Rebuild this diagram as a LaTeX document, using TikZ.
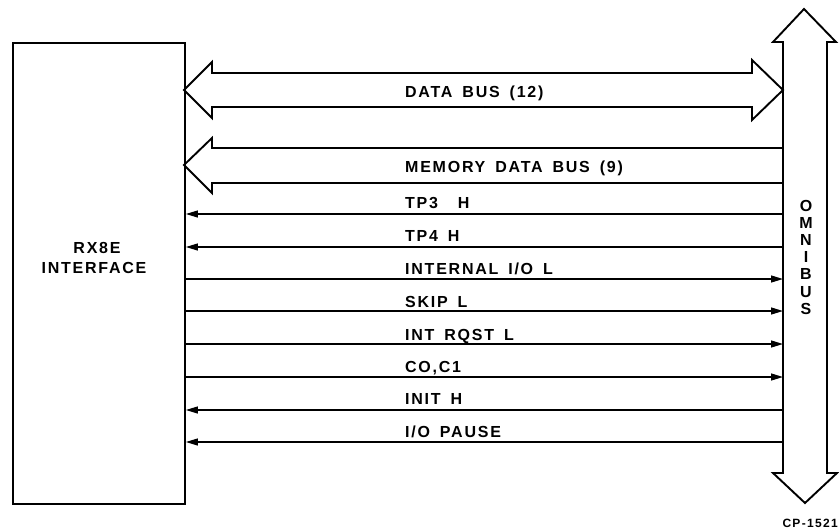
\documentclass[tikz,border=0pt]{standalone}
\usepackage{fontspec}
\usetikzlibrary{arrows.meta}
\newfontfamily\lbl[LetterSpace=11,WordSpace=1.6]{Liberation Sans Bold}
\begin{document}
\begin{tikzpicture}[x=1pt,y=-1pt,
  boxline/.style={line width=1.9pt},
  busline/.style={line width=1.9pt, line join=miter},
  sigline/.style={line width=1.3pt},
  toleft/.style={sigline, -{Triangle[length=12pt,width=7pt]}},
  toright/.style={sigline, -{Triangle[length=12pt,width=7pt]}},
  txt/.style={font=\lbl\fontsize{16}{17}\selectfont, inner sep=0pt},
  smalltxt/.style={font=\lbl\fontsize{12}{13}\selectfont, inner sep=0pt}
]
\useasboundingbox (0,0) rectangle (839,531);

% interface box
\node[draw, boxline, minimum width=172pt, minimum height=461pt, inner sep=0pt, anchor=north west] (rx) at (12,42) {};
\node[txt, anchor=base] (rxa) at (97,253) {RX8E};
\node[txt, anchor=base] (rxb) at (94,273) {INTERFACE};

% omnibus
\draw[busline] (783,42) -- (773,42) -- (804,9) -- (836,42) -- (827,42)
  -- (827,473) -- (837,473) -- (805,503) -- (773,473) -- (783,473) -- cycle;
\foreach \c [count=\i] in {O,M,N,I,B,U,S}
  \node[txt, anchor=base] (om\i) at (806,{211+17.2*(\i-1)}) {\c};

% data bus (double arrow)
\coordinate (dbL) at (184,90);
\coordinate (dbR) at (783,90);
\draw[busline] (dbL) -- (212,62) -- (212,73) -- (752,73) -- (752,60) -- (dbR)
  -- (752,120) -- (752,107) -- (212,107) -- (212,118) -- cycle;
\node[txt, anchor=base west] (dbt) at (405,97) {DATA BUS (12)};

% memory data bus
\coordinate (mbL) at (184,165);
\draw[busline] (783,148) -- (212,148) -- (212,138) -- (mbL) -- (212,193) -- (212,183) -- (783,183);
\node[txt, anchor=base west] (mbt) at (405,172) {MEMORY DATA BUS (9)};

% signal lines
\coordinate (s1) at (783,214);
\coordinate (s2) at (783,247);
\coordinate (s3) at (783,279);
\coordinate (s4) at (783,311);
\coordinate (s5) at (783,344);
\coordinate (s6) at (783,377);
\coordinate (s7) at (783,410);
\coordinate (s8) at (783,442);

\draw[toleft] (s1) -- (s1 -| rx.east);
\draw[toleft] (s2) -- (s2 -| rx.east);
\draw[toright] (s3 -| rx.east) -- (s3);
\draw[toright] (s4 -| rx.east) -- (s4);
\draw[toright] (s5 -| rx.east) -- (s5);
\draw[toright] (s6 -| rx.east) -- (s6);
\draw[toleft] (s7) -- (s7 -| rx.east);
\draw[toleft] (s8) -- (s8 -| rx.east);

\node[txt, anchor=base west] (l1) at (405,208) {TP3\ \ H};
\node[txt, anchor=base west] (l2) at (405,241) {TP4 H};
\node[txt, anchor=base west] (l3) at (405,274) {INTERNAL I/O L};
\node[txt, anchor=base west] (l4) at (405,307) {SKIP\ L};
\node[txt, anchor=base west] (l5) at (405,340) {INT RQST L};
\node[txt, anchor=base west] (l6) at (405,372) {CO,C1};
\node[txt, anchor=base west] (l7) at (405,404) {INIT H};
\node[txt, anchor=base west] (l8) at (405,437) {I/O PAUSE};

\node[smalltxt, anchor=base east] (cp) at (838,527) {CP-1521};
\end{tikzpicture}
\end{document}
